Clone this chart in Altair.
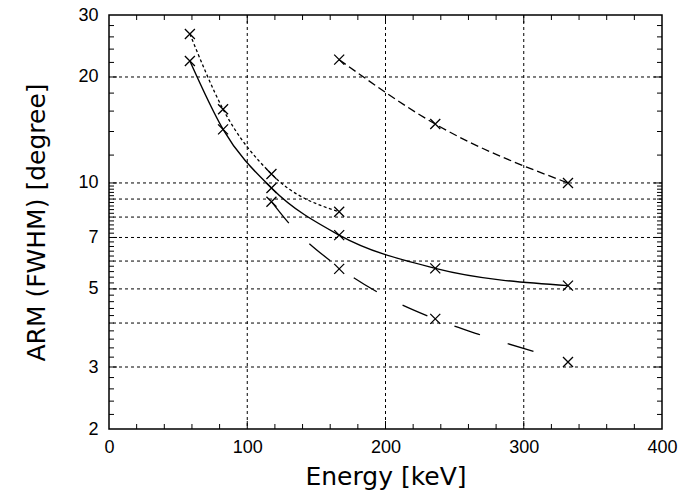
import altair as alt
import pandas as pd

# ---- data ----
energy_a = [58.5, 82.5, 117.5, 166.5]
arm_a = [26.5, 16.2, 10.6, 8.28]

energy_b = [58.5, 82.5, 117.5, 166.5, 236, 332]
arm_b = [22.2, 14.2, 9.68, 7.11, 5.72, 5.11]

energy_c = [117.5, 166.5, 236, 332]
arm_c = [8.84, 5.70, 4.11, 3.10]
fit_c_energy = [117.8, 130.3, 161, 194.8, 235.8, 269.7, 308.3]
fit_c_arm = [8.82, 7.67, 5.97, 4.88, 4.11, 3.69, 3.31]

energy_d = [166.5, 236, 332]
arm_d = [22.4, 14.7, 10.0]

x_labels = [0, 100, 200, 300, 400]
y_labels = [2, 3, 5, 7, 10, 20, 30]
grid_x = [100, 200, 300]
grid_y = [3, 4, 5, 6, 7, 8, 9, 10, 20]
x_minor = [20, 40, 60, 80, 120, 140, 160, 180, 220, 240, 260, 280, 320, 340, 360, 380]
x_major = [100, 200, 300]
y_minor = [2.2, 2.4, 2.6, 2.8, 3.2, 3.4, 3.6, 3.8, 4.0, 4.2, 4.4, 4.6, 4.8,
           5.2, 5.4, 5.6, 5.8, 6.0, 6.2, 6.4, 6.6, 6.8, 7.2, 7.4, 7.6, 7.8,
           8.0, 8.2, 8.4, 8.6, 8.8, 9.0, 9.2, 9.4, 9.6, 9.8,
           12, 14, 16, 18, 22, 24, 26, 28]
y_major = [3, 5, 7, 10, 20]

W, H = 553, 414
xscale = alt.Scale(domain=[0, 400], nice=False, zero=False)
yscale = alt.Scale(type="log", domain=[2, 30], nice=False)

FONT = "Liberation Sans"
TFONT = "DejaVu Sans"

xaxis = alt.Axis(values=x_labels, title="Energy [keV]", ticks=False,
                 domain=False, grid=False, labelFontSize=18, labelFont=FONT,
                 labelPadding=9, titleFont=TFONT, titleFontSize=25,
                 titleFontWeight="normal", titlePadding=8,
                 labelColor="black", titleColor="black", labelFlush=False)
yaxis = alt.Axis(values=y_labels, title="ARM (FWHM) [degree]", ticks=False,
                 domain=False, grid=False, labelFontSize=18, labelFont=FONT,
                 labelPadding=11, titleFont=TFONT, titleFontSize=25,
                 titleFontWeight="normal", titlePadding=28,
                 labelColor="black", titleColor="black", labelFlush=False)

df_a = pd.DataFrame({"e": energy_a, "arm": arm_a})
df_b = pd.DataFrame({"e": energy_b, "arm": arm_b})
df_cfit = pd.DataFrame({"e": fit_c_energy, "arm": fit_c_arm})
df_d = pd.DataFrame({"e": energy_d, "arm": arm_d})
df_pts = pd.DataFrame({
    "e": energy_a + energy_b + energy_c + energy_d,
    "arm": arm_a + arm_b + arm_c + arm_d,
})

XE = alt.X("e", type="quantitative", scale=xscale, axis=xaxis)
YA = alt.Y("arm", type="quantitative", scale=yscale, axis=yaxis)

gx = alt.Chart(pd.DataFrame({"e": grid_x})).mark_rule(
    color="black", strokeWidth=1, strokeDash=[3, 3]).encode(x=XE)
gy = alt.Chart(pd.DataFrame({"arm": grid_y})).mark_rule(
    color="black", strokeWidth=1, strokeDash=[3, 3]).encode(y=YA)

def xticks(vals, length):
    d = pd.DataFrame({"e": vals})
    bot = alt.Chart(d).mark_rule(color="black", strokeWidth=1).encode(
        x=XE, y=alt.value(H), y2=alt.value(H - length))
    top = alt.Chart(d).mark_rule(color="black", strokeWidth=1).encode(
        x=XE, y=alt.value(0), y2=alt.value(length))
    return [bot, top]

def yticks(vals, length):
    d = pd.DataFrame({"arm": vals})
    left = alt.Chart(d).mark_rule(color="black", strokeWidth=1).encode(
        y=YA, x=alt.value(0), x2=alt.value(length))
    right = alt.Chart(d).mark_rule(color="black", strokeWidth=1).encode(
        y=YA, x=alt.value(W), x2=alt.value(W - length))
    return [left, right]

ticks = xticks(x_minor, 5) + xticks(x_major, 8) + yticks(y_minor, 5) + yticks(y_major, 8)

line_a = alt.Chart(df_a).mark_line(
    color="black", strokeWidth=1.3, strokeDash=[3, 2.5], interpolate="monotone"
).encode(x=XE, y=YA)

line_b = alt.Chart(df_b).mark_line(
    color="black", strokeWidth=1.4, interpolate="monotone"
).encode(x=XE, y=YA)

line_c = alt.Chart(df_cfit).mark_line(
    color="black", strokeWidth=1.3, strokeDash=[27, 29], interpolate="monotone"
).encode(x=XE, y=YA)

line_d = alt.Chart(df_d).mark_line(
    color="black", strokeWidth=1.3, strokeDash=[8, 4], interpolate="monotone"
).encode(x=XE, y=YA)

pts = alt.Chart(df_pts).mark_point(
    shape="M-1,-1L1,1M-1,1L1,-1", size=100, filled=False,
    color="black", strokeWidth=1.3, opacity=1
).encode(x=XE, y=YA)

chart = alt.layer(gx, gy, *ticks, line_a, line_b, line_c, line_d, pts).properties(
    width=W, height=H,
    autosize=alt.AutoSizeParams(type="none"),
    padding={"left": 109, "top": 15, "right": 34, "bottom": 66},
    background="white",
).configure_view(stroke="black", strokeWidth=1.5)

chart.save("out.html", embed_options={"renderer": "svg", "actions": False})
